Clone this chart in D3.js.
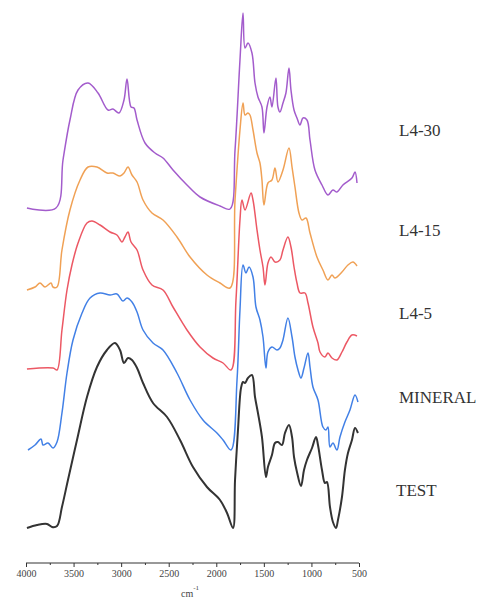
<!DOCTYPE html>
<html>
<head>
<meta charset="utf-8">
<script src="https://cdn.jsdelivr.net/npm/d3@7"></script>
<style>
  body { margin: 0; background: #fff; }
  svg { display: block; }
</style>
</head>
<body>
<div id="chart-area"></div>
<script>
// wavenumber (cm-1) and offset intensity
let l430 = [[3990,337],[3685,337],[3611,385],[3538,425],[3453,455],[3348,462],[3243,452],[3138,435],[3086,436],[3023,432],[2970,445],[2938,466],[2896,438],[2865,437],[2833,425],[2749,402],[2644,392],[2560,387],[2455,375],[2308,360],[2171,348],[1961,339],[1856,336],[1803,395],[1751,485],[1719,532],[1698,497],[1667,502],[1625,492],[1593,462],[1562,448],[1520,438],[1499,412],[1467,438],[1436,448],[1415,438],[1373,467],[1352,438],[1331,433],[1299,442],[1268,452],[1236,477],[1215,455],[1183,435],[1152,427],[1120,420],[1089,427],[1047,425],[1015,405],[963,375],[889,360],[826,350],[774,355],[732,353],[669,360],[574,367],[542,373],[521,362]];

let l415 = [[3990,255],[3905,258],[3853,262],[3800,258],[3737,262],[3716,258],[3674,258],[3622,295],[3538,335],[3432,365],[3348,378],[3254,378],[3149,372],[3086,372],[3012,369],[2970,372],[2928,378],[2886,370],[2833,363],[2770,345],[2676,332],[2560,325],[2413,308],[2276,288],[2098,270],[1961,262],[1856,257],[1803,345],[1751,415],[1719,442],[1698,430],[1667,432],[1646,430],[1614,415],[1572,392],[1541,382],[1520,365],[1499,340],[1457,362],[1415,365],[1383,377],[1352,363],[1299,375],[1236,397],[1204,378],[1173,358],[1131,332],[1099,325],[1057,327],[1015,312],[942,288],[879,275],[826,265],[784,270],[753,267],[679,273],[616,280],[564,283],[521,279]];

let l45 = [[3990,176],[3716,177],[3674,175],[3622,215],[3569,255],[3517,280],[3453,302],[3359,322],[3306,324],[3222,320],[3117,313],[3044,310],[2991,303],[2960,308],[2928,313],[2896,303],[2833,295],[2770,275],[2676,260],[2560,255],[2455,238],[2308,215],[2171,198],[2035,187],[1929,182],[1845,175],[1793,245],[1751,325],[1730,345],[1698,335],[1635,352],[1614,345],[1572,315],[1541,295],[1509,278],[1488,260],[1457,282],[1425,288],[1383,283],[1331,285],[1299,295],[1247,308],[1215,298],[1183,278],[1152,262],[1120,252],[1068,252],[1036,242],[984,218],[931,202],[910,193],[858,188],[826,192],[784,187],[732,185],[679,193],[627,203],[574,210],[521,209]];

let mineral = [[3979,95],[3905,100],[3842,106],[3821,100],[3769,102],[3716,97],[3674,103],[3622,132],[3569,172],[3506,205],[3411,232],[3327,247],[3222,252],[3117,250],[3044,251],[2981,244],[2938,247],[2886,243],[2833,233],[2770,215],[2665,202],[2560,195],[2413,172],[2276,145],[2140,125],[1993,112],[1929,105],[1845,95],[1782,165],[1751,235],[1719,280],[1688,272],[1656,278],[1614,268],[1583,238],[1541,225],[1509,208],[1478,177],[1457,193],[1415,198],[1362,195],[1331,197],[1299,205],[1247,227],[1204,208],[1173,188],[1141,175],[1110,167],[1078,177],[1036,192],[1015,178],[984,158],[931,145],[879,118],[847,115],[826,118],[805,98],[774,102],[732,95],[700,108],[648,123],[595,135],[542,150],[511,143]];

let test = [[3990,17],[3884,20],[3779,21],[3727,18],[3674,19],[3622,38],[3559,65],[3464,105],[3359,148],[3254,178],[3149,195],[3065,202],[3012,195],[2970,182],[2928,187],[2886,185],[2833,177],[2770,162],[2665,142],[2518,128],[2381,105],[2245,78],[2098,58],[1961,45],[1887,32],[1824,17],[1803,65],[1772,115],[1740,157],[1719,163],[1698,162],[1667,167],[1625,170],[1593,148],[1562,132],[1520,108],[1478,68],[1457,78],[1415,90],[1383,102],[1352,103],[1310,100],[1278,112],[1236,120],[1204,108],[1183,88],[1152,73],[1110,59],[1078,75],[1047,85],[994,97],[952,108],[931,100],[889,75],[858,62],[837,63],[805,38],[774,23],[742,17],[721,25],[679,48],[648,75],[616,92],[574,105],[542,117],[511,112]];

let names = ["L4-30", "L4-15", "L4-5", "MINERAL", "TEST"];
let seriesData = [l430, l415, l45, mineral, test];
let colors = ["#a35ccc", "#f0a155", "#ec5864", "#4280e6", "#333333"];
// label vertical positions, in the same intensity units
let labelLevel = [409, 309, 226, 142, 49];

let majorTicks = [4000, 3500, 3000, 2500, 2000, 1500, 1000, 500];
let minorTicks = [3750, 3250, 2750, 2250, 1750, 1250, 750];

let width = 483, height = 599;

let svg = d3.select("#chart-area")
    .append("svg")
    .attr("width", width)
    .attr("height", height);

let x = d3.scaleLinear().domain([4000, 500]).range([26, 359]);
let y = d3.scaleLinear().domain([0, 545]).range([545, 0]);

let line = d3.line()
    .x(d => x(d[0]))
    .y(d => y(d[1]))
    .curve(d3.curveCatmullRom.alpha(0.5));

svg.selectAll("path.trace")
    .data(seriesData)
    .enter()
    .append("path")
    .attr("class", "trace")
    .attr("d", d => line(d))
    .attr("fill", "none")
    .attr("stroke", (d, i) => colors[i])
    .attr("stroke-width", (d, i) => i == 4 ? 2 : 1.5)
    .attr("stroke-linejoin", "round");

svg.selectAll("text.name")
    .data(names)
    .enter()
    .append("text")
    .attr("class", "name")
    .attr("x", (d, i) => d == "TEST" ? 396 : 399)
    .attr("y", (d, i) => y(labelLevel[i]))
    .attr("font-family", "Liberation Serif, serif")
    .attr("font-size", 17)
    .attr("fill", "#333")
    .text(d => d);

// x axis
let axisY = 563;
let axis = svg.append("g")
    .attr("transform", "translate(0," + axisY + ")")
    .call(d3.axisBottom(x).tickValues(majorTicks).tickSize(4).tickPadding(3).tickFormat(d3.format("d")));
axis.select(".domain").attr("stroke", "#333").attr("d", "M26,0H359");
axis.selectAll(".tick line").attr("stroke", "#333");
axis.selectAll(".tick text")
    .attr("font-family", "Liberation Serif, serif")
    .attr("font-size", 10)
    .attr("fill", "#444");

let minor = svg.append("g")
    .attr("transform", "translate(0," + axisY + ")")
    .call(d3.axisBottom(x).tickValues(minorTicks).tickSize(2).tickFormat(""));
minor.select(".domain").remove();
minor.selectAll(".tick line").attr("stroke", "#333");

let unit = svg.append("text")
    .attr("x", 181)
    .attr("y", 597)
    .attr("font-family", "Liberation Serif, serif")
    .attr("font-size", 10)
    .attr("fill", "#444");
unit.append("tspan").text("cm");
unit.append("tspan").attr("dy", -7).attr("font-size", 7).text("-1");
</script>
</body>
</html>
